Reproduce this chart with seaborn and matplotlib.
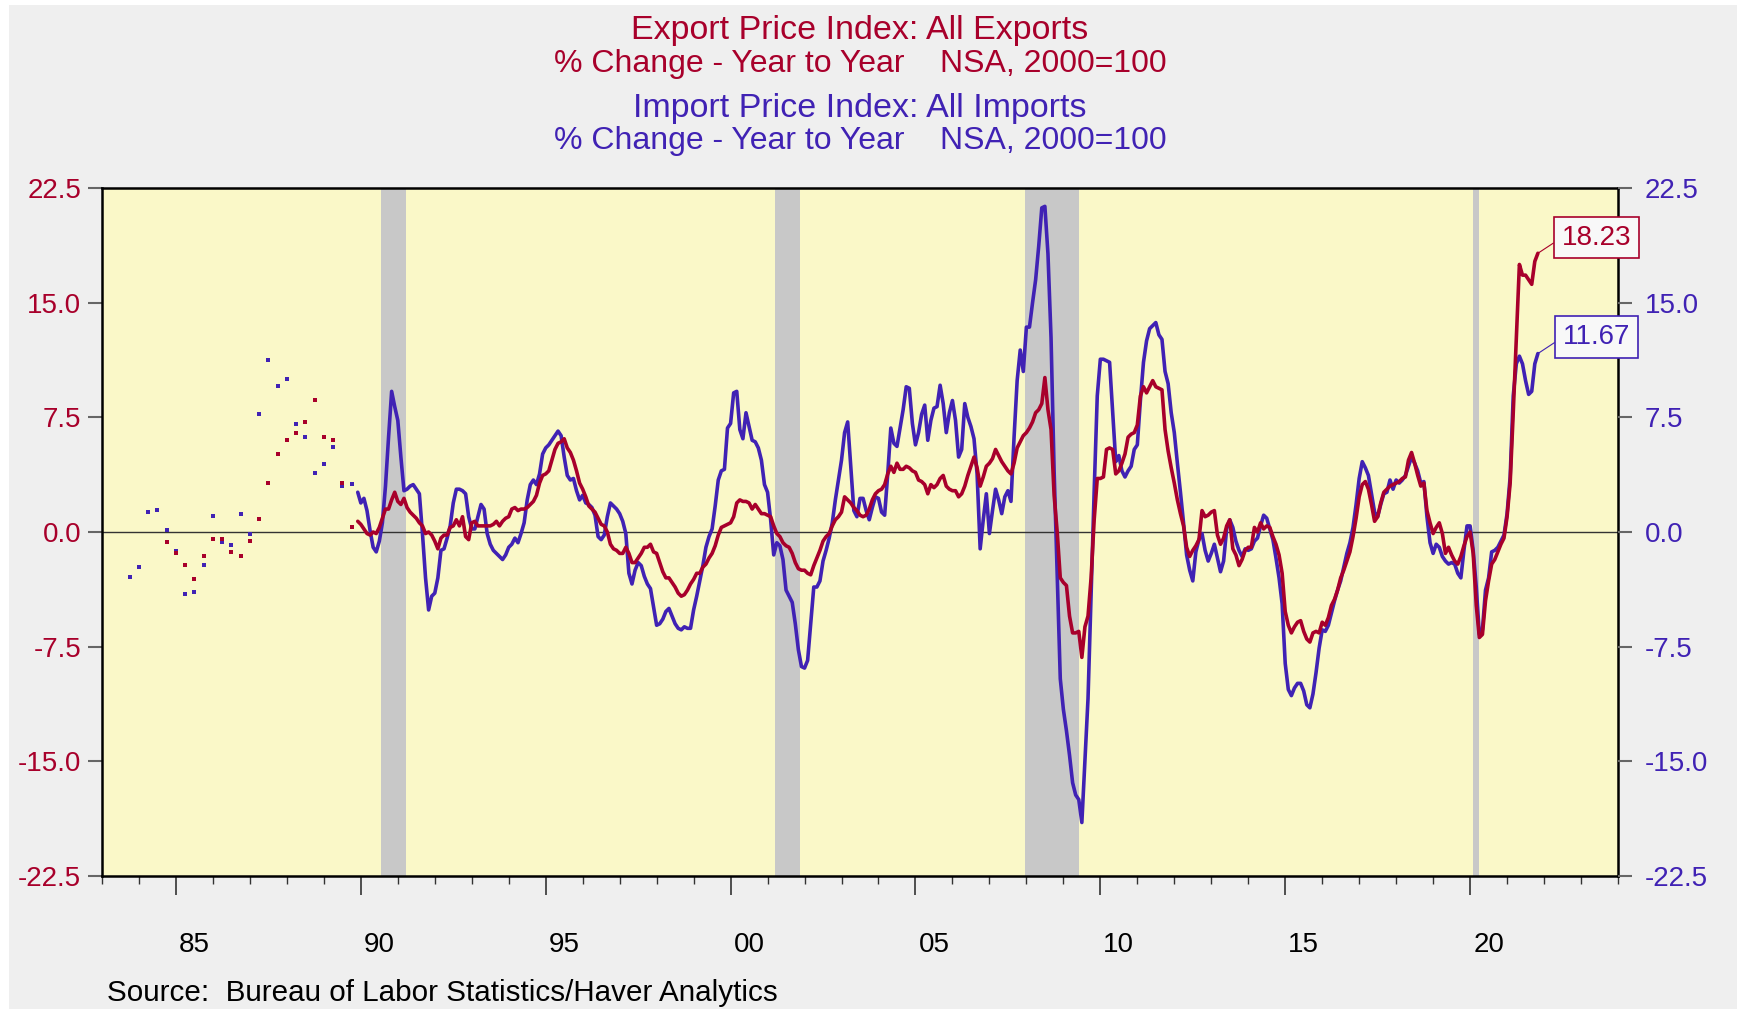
import numpy as np
import pandas as pd
import matplotlib
matplotlib.use("Agg")
import matplotlib.pyplot as plt
import seaborn as sns
from matplotlib.patches import Rectangle

# ---------------- data ----------------
# quarterly points (1983-1989), plotted as dots
imp_q_start = 1983.75
imp_q = [-2.96, -2.30, 1.29, 1.43, 0.11, -1.25, -4.06, -3.90, -2.19, 1.07, -0.68, -0.88,
         1.21, -0.11, 7.70, 11.25, 9.58, 10.02, 7.06, 6.21, 3.88, 4.47, 5.55, 3.03, 3.16]
exp_q_start = 1984.75
exp_q = [-0.68, -1.38, -2.19, -3.05, -1.60, -0.46, -0.46, -1.32, -1.54, -0.59, 0.86,
         3.22, 5.11, 5.99, 6.47, 7.21, 8.66, 6.21, 5.99, 3.22, 0.33]

# monthly, Dec 1989 .. Nov 2021
monthly_start = 1989 + 11 / 12
import_yoy = [2.6,
    1.9, 2.2, 1.4, 0.1, -1.0, -1.3, -0.6, 0.6, 3.0, 6.2, 9.2, 8.2,
    7.3, 4.9, 2.7, 2.8, 3.0, 3.1, 2.8, 2.5, -0.1, -3.0, -5.1, -4.2,
    -4.0, -3.0, -1.2, -1.1, -0.4, 0.4, 1.9, 2.8, 2.8, 2.7, 2.5, 1.0,
    0.2, 0.2, 1.0, 1.8, 1.5, -0.1, -0.8, -1.2, -1.4, -1.6, -1.8, -1.5,
    -1.0, -0.8, -0.4, -0.7, -0.1, 0.6, 2.1, 3.1, 3.4, 3.1, 3.8, 5.1,
    5.5, 5.7, 6.0, 6.3, 6.6, 6.3, 4.9, 3.7, 3.4, 3.5, 2.7, 2.1,
    2.4, 1.9, 1.8, 1.6, 1.1, -0.3, -0.5, -0.2, 1.0, 1.9, 1.7, 1.5,
    1.2, 0.7, -0.1, -2.7, -3.4, -2.5, -2.0, -2.2, -2.9, -3.4, -3.7, -4.9,
    -6.1, -6.0, -5.7, -5.2, -5.0, -5.5, -6.0, -6.3, -6.4, -6.2, -6.3, -6.3,
    -5.1, -4.2, -3.2, -2.2, -1.0, -0.3, 0.2, 1.7, 3.4, 4.0, 4.1, 6.8,
    7.1, 9.1, 9.2, 6.7, 6.1, 7.8, 6.9, 6.0, 5.9, 5.5, 4.7, 3.1,
    2.6, 0.8, -1.5, -0.7, -0.9, -1.8, -3.8, -4.2, -4.6, -6.0, -7.7, -8.8,
    -8.9, -8.4, -6.0, -3.6, -3.6, -3.2, -1.9, -1.2, -0.4, 0.6, 2.1, 3.4,
    4.7, 6.5, 7.2, 4.3, 1.4, 1.0, 2.2, 2.2, 1.4, 0.8, 1.6, 2.3,
    2.2, 1.3, 1.1, 3.8, 6.8, 5.8, 5.6, 6.8, 8.0, 9.5, 9.4, 7.1,
    5.7, 6.5, 7.7, 8.3, 6.0, 7.3, 8.1, 8.2, 9.6, 8.4, 6.5, 7.8,
    8.6, 7.3, 4.9, 5.4, 8.4, 7.5, 6.9, 6.1, 3.8, -1.1, 0.8, 2.5,
    -0.1, 1.4, 2.8, 2.1, 1.2, 2.3, 2.7, 2.0, 6.2, 9.9, 11.9, 10.5,
    13.4, 13.4, 15.0, 16.5, 18.7, 21.2, 21.3, 18.2, 12.7, 4.0, -2.8, -9.6,
    -11.6, -13.0, -14.6, -16.4, -17.2, -17.5, -19.0, -15.0, -10.9, -4.1, 2.7, 8.9,
    11.3, 11.3, 11.2, 11.1, 7.8, 4.6, 5.0, 4.0, 3.6, 4.0, 4.3, 5.4,
    5.7, 8.6, 11.1, 12.5, 13.3, 13.5, 13.7, 12.9, 12.6, 10.5, 9.7, 7.8,
    6.5, 4.5, 2.6, 0.6, -1.5, -2.5, -3.2, -1.3, -0.5, -0.1, -1.2, -1.9,
    -1.4, -0.8, -1.7, -2.6, -1.9, 0.2, 0.8, 0.3, -0.6, -1.2, -1.6, -1.1,
    -1.2, -1.1, -0.6, -0.4, 0.4, 1.1, 0.9, 0.2, -0.5, -1.7, -3.0, -4.7,
    -8.6, -10.3, -10.7, -10.2, -9.9, -9.9, -10.4, -11.3, -11.5, -10.6, -9.2, -7.6,
    -6.4, -6.5, -6.1, -5.3, -4.5, -3.8, -3.2, -2.3, -1.4, -0.7, 0.3, 1.8,
    3.5, 4.6, 4.2, 3.7, 2.5, 1.3, 1.0, 1.8, 2.5, 2.6, 3.4, 2.8,
    3.4, 3.2, 3.4, 3.7, 4.3, 4.9, 4.5, 4.0, 3.2, 3.3, 1.0, -0.7,
    -1.4, -0.8, -1.0, -1.6, -1.9, -2.1, -2.0, -2.1, -2.7, -3.0, -1.2, 0.4,
    0.4, -1.2, -3.6, -6.7, -6.4, -3.8, -3.0, -1.3, -1.2, -1.0, -0.6, -0.2,
    1.2, 3.6, 8.9, 11.0, 11.5, 11.0, 9.9, 9.0, 9.2, 11.0, 11.67]

export_yoy = [0.7,
    0.5, 0.2, -0.1, -0.2, 0.0, -0.1, 0.3, 0.9, 1.5, 1.5, 2.1, 2.6,
    2.0, 1.8, 2.2, 1.6, 1.3, 1.1, 0.9, 0.6, 0.4, -0.1, 0.0, -0.2,
    -0.6, -1.1, -0.4, -0.2, -0.2, 0.3, 0.4, 0.8, 0.4, 1.0, -0.3, -0.5,
    0.6, 0.7, 0.4, 0.4, 0.4, 0.4, 0.4, 0.5, 0.7, 0.4, 0.7, 0.9,
    1.0, 1.5, 1.6, 1.4, 1.5, 1.5, 1.6, 1.8, 2.0, 2.4, 3.2, 3.7,
    3.8, 4.0, 4.7, 5.4, 5.8, 5.9, 6.1, 5.5, 5.2, 4.7, 4.0, 3.2,
    2.8, 2.3, 1.7, 1.5, 1.3, 0.9, 0.5, 0.4, 0.0, -0.8, -1.1, -1.2,
    -1.4, -1.4, -1.0, -1.4, -2.0, -2.0, -1.7, -1.4, -1.0, -1.0, -0.8, -1.3,
    -1.4, -2.0, -2.6, -3.0, -3.0, -3.3, -3.6, -4.0, -4.2, -4.1, -3.8, -3.4,
    -3.1, -2.7, -2.7, -2.3, -2.1, -1.7, -1.4, -0.9, -0.2, 0.3, 0.4, 0.5,
    0.6, 1.0, 1.9, 2.1, 2.0, 2.0, 1.9, 1.5, 1.8, 1.5, 1.2, 1.2,
    1.1, 1.0, 0.4, -0.1, -0.3, -0.7, -0.9, -1.0, -1.4, -2.0, -2.4, -2.5,
    -2.5, -2.7, -2.8, -2.2, -1.7, -1.2, -0.6, -0.3, -0.1, 0.4, 0.8, 1.0,
    1.3, 2.3, 2.1, 1.9, 1.6, 1.4, 1.1, 1.0, 1.1, 1.5, 2.1, 2.5,
    2.7, 2.8, 3.1, 3.8, 4.3, 3.9, 4.5, 4.1, 4.1, 4.3, 4.2, 4.0,
    3.9, 3.4, 3.3, 3.1, 2.5, 3.1, 2.9, 3.1, 3.5, 3.7, 3.0, 2.8,
    2.7, 2.7, 2.3, 2.5, 3.0, 3.7, 4.3, 4.9, 4.2, 3.0, 3.6, 4.3,
    4.5, 4.8, 5.4, 5.0, 4.6, 4.3, 4.0, 3.8, 4.5, 5.5, 5.9, 6.3,
    6.5, 6.8, 7.2, 7.8, 8.0, 8.4, 10.1, 8.0, 6.7, 2.4, 0.0, -3.0,
    -3.3, -3.5, -5.5, -6.6, -6.6, -6.5, -8.2, -6.2, -5.5, -3.0, 0.8, 3.5,
    3.5, 3.6, 5.4, 5.5, 5.4, 3.8, 4.0, 4.5, 5.1, 6.2, 6.4, 6.5,
    7.0, 8.9, 9.5, 9.1, 9.5, 9.9, 9.5, 9.4, 9.3, 6.7, 5.3, 4.2,
    3.2, 2.1, 1.2, 0.4, -1.0, -1.6, -1.2, -0.9, -0.5, 1.4, 1.0, 1.1,
    1.3, 1.4, -0.2, -0.8, -0.4, 0.4, 0.8, -1.1, -1.5, -2.2, -1.8, -1.2,
    -1.0, -1.0, 0.3, 0.0, 0.6, 0.2, 0.4, 0.3, -0.3, -0.8, -1.5, -2.7,
    -5.2, -6.1, -6.6, -6.2, -5.9, -5.8, -6.5, -7.0, -7.2, -6.6, -6.5, -6.6,
    -5.9, -6.1, -5.6, -4.8, -4.4, -3.8, -3.0, -2.5, -1.9, -1.3, -0.3, 0.9,
    2.3, 3.1, 3.3, 2.8, 1.8, 0.7, 1.0, 1.9, 2.6, 2.8, 3.0, 3.1,
    3.2, 3.3, 3.5, 3.6, 4.7, 5.2, 4.5, 3.7, 3.0, 3.2, 1.4, 0.6,
    -0.1, 0.3, 0.6, -0.1, -1.4, -1.0, -1.5, -1.9, -2.1, -1.6, -0.9, -0.3,
    0.0, -1.4, -4.8, -6.9, -6.7, -4.5, -3.2, -2.1, -1.8, -1.3, -0.8, -0.4,
    1.0, 3.2, 7.8, 12.6, 17.5, 16.8, 16.8, 16.5, 16.2, 17.7, 18.23]

recession_start = [1990.55, 2001.19, 2007.95, 2020.08]
recession_end = [1991.22, 2001.87, 2009.43, 2020.25]

y_ticks = [-22.5, -15.0, -7.5, 0.0, 7.5, 15.0, 22.5]
y_labels = ["-22.5", "-15.0", "-7.5", "0.0", "7.5", "15.0", "22.5"]
x_label_years = [1985, 1990, 1995, 2000, 2005, 2010, 2015, 2020]
x_labels = ["85", "90", "95", "00", "05", "10", "15", "20"]

# ---------------- frames ----------------
n = len(import_yoy)
dates = monthly_start + np.arange(n) / 12.0
df = pd.DataFrame({"date": dates, "imp": import_yoy, "exp": export_yoy})
dq_imp = pd.DataFrame({"date": imp_q_start + 0.25 * np.arange(len(imp_q)), "v": imp_q})
dq_exp = pd.DataFrame({"date": exp_q_start + 0.25 * np.arange(len(exp_q)), "v": exp_q})

RED = "#A8002B"
BLUE = "#4022B4"

sns.set_theme(style="white")
plt.rcParams['font.family'] = ['Liberation Sans', 'DejaVu Sans']

W, H = 1737, 1009
fig = plt.figure(figsize=(W / 100, H / 100), dpi=100)
fig.patch.set_facecolor("white")
fig.patches.append(Rectangle((9 / W, 0), 1, 1 - 5 / H, transform=fig.transFigure,
                             facecolor="#EFEFEF", edgecolor="none", zorder=-10))

L, R, T, B = 102, 1618, 188, 876
ax = fig.add_axes([L / W, 1 - B / H, (R - L) / W, (B - T) / H])
ax.set_facecolor("#FAF8C8")

for s, e in zip(recession_start, recession_end):
    ax.axvspan(s, e, color="#C8C8C8", lw=0, zorder=1)
ax.axhline(0, color="#333333", lw=1.0, zorder=2)

sns.lineplot(data=df, x="date", y="imp", ax=ax, color=BLUE, lw=2.6, legend=False, zorder=4)
sns.lineplot(data=df, x="date", y="exp", ax=ax, color=RED, lw=2.6, legend=False, zorder=5)
sns.scatterplot(data=dq_imp, x="date", y="v", ax=ax, color=BLUE, marker="s", s=9,
                linewidth=0, legend=False, zorder=4)
sns.scatterplot(data=dq_exp, x="date", y="v", ax=ax, color=RED, marker="s", s=9,
                linewidth=0, legend=False, zorder=5)

ax.set_xlim(1983, 2024)
ax.set_ylim(-22.5, 22.5)
ax.set_xlabel("")
ax.set_ylabel("")

ax.set_yticks(y_ticks)
ax.set_yticklabels(y_labels, color=RED, fontsize=20)
ax.tick_params(axis="y", which="major", left=True, direction="out", length=10, width=1.5,
               color="#666666", pad=5)

ax.set_xticks(x_label_years)
ax.set_xticklabels([])
ax.set_xticks(np.arange(1983, 2025), minor=True)
ax.tick_params(axis="x", which="major", bottom=True, direction="out", length=14, width=1.2,
               color="#333333")
ax.tick_params(axis="x", which="minor", bottom=True, direction="out", length=6, width=1.0,
               color="#333333")

sec = ax.secondary_xaxis("bottom")
sec.set_xticks([y + 0.5 for y in x_label_years], labels=x_labels)
sec.tick_params(axis="x", length=0, pad=40, labelsize=20, labelcolor="black")
sec.spines["bottom"].set_visible(False)

for sp in ax.spines.values():
    sp.set_color("black")
    sp.set_linewidth(1.8)

ax2 = ax.twinx()
ax2.set_ylim(-22.5, 22.5)
ax2.set_yticks(y_ticks)
ax2.set_yticklabels(y_labels, color=BLUE, fontsize=20)
ax2.tick_params(axis="y", right=True, direction="out", length=10, width=1.5,
                color="#666666", pad=9)
ax2.grid(False)
for sp in ax2.spines.values():
    sp.set_visible(False)

# end-value labels
last_x = dates[-1]
ax.annotate(f"{export_yoy[-1]:.2f}", xy=(last_x, export_yoy[-1]), xytext=(2023.42, 19.26),
            ha="center", va="center", fontsize=20, color=RED, zorder=10,
            bbox=dict(boxstyle="square,pad=0.28", fc="#F8F8F8", ec=RED, lw=1.2),
            arrowprops=dict(arrowstyle="-", color=RED, lw=0.8, shrinkA=0, shrinkB=0,
                            relpos=(0, 0.5)))
ax.annotate(f"{import_yoy[-1]:.2f}", xy=(last_x, import_yoy[-1]), xytext=(2023.42, 12.75),
            ha="center", va="center", fontsize=20, color=BLUE, zorder=10,
            bbox=dict(boxstyle="square,pad=0.28", fc="#F8F8F8", ec=BLUE, lw=1.2),
            arrowprops=dict(arrowstyle="-", color=BLUE, lw=0.8, shrinkA=0, shrinkB=0,
                            relpos=(0, 0.5)))

# titles
cx = 860 / W
fig.text(cx, 1 - 31 / H, "Export Price Index: All Exports", ha="center", va="center",
         fontsize=24.5, color=RED)
fig.text(cx, 1 - 64 / H, "% Change - Year to Year    NSA, 2000=100", ha="center", va="center",
         fontsize=23, color=RED)
fig.text(cx, 1 - 108 / H, "Import Price Index: All Imports", ha="center", va="center",
         fontsize=24.5, color=BLUE)
fig.text(cx, 1 - 141.5 / H, "% Change - Year to Year    NSA, 2000=100", ha="center", va="center",
         fontsize=23, color=BLUE)
fig.text(107 / W, 1 - 993 / H, "Source:  Bureau of Labor Statistics/Haver Analytics",
         ha="left", va="center", fontsize=21.3, color="black")

fig.savefig("out.png", dpi=100, facecolor=fig.get_facecolor())
